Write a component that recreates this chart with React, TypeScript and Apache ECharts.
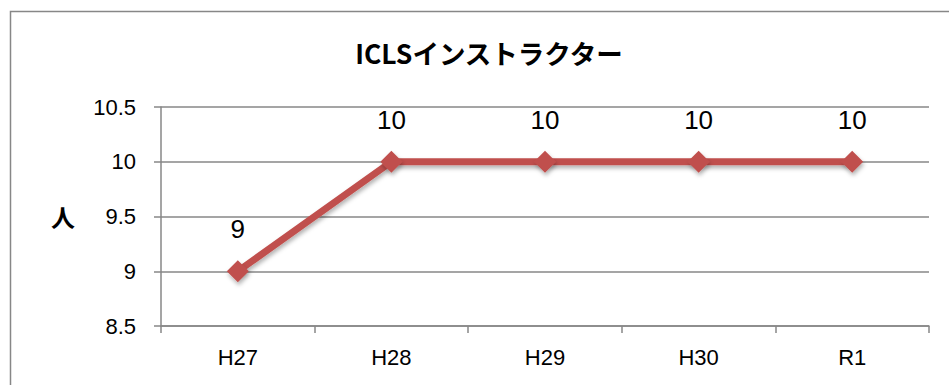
import React, { useEffect, useRef } from "react";
import * as echarts from "echarts";

// Fiscal years (Heisei 27 – Reiwa 1)
const years: string[] = ["H27", "H28", "H29", "H30", "R1"];
// ICLS instructor head count per year
const instructors: number[] = [9, 10, 10, 10, 10];

const yMin = 8.5;
const yMax = 10.5;
const yStep = 0.5;

const LATIN = "'Liberation Sans', Arial, sans-serif";
const JP = "'Noto Sans CJK JP', 'Liberation Sans', sans-serif";
const GRID_GRAY = "#878787";
const RED = "#C0504D";

export default function App() {
  const ref = useRef<HTMLDivElement>(null);

  useEffect(() => {
    if (!ref.current) return;
    const chart = echarts.init(ref.current, undefined, { renderer: "svg" });
    chart.setOption({
      animation: false,
      backgroundColor: "#ffffff",
      title: {
        text: "ICLSインストラクター",
        left: 484,
        textAlign: "center",
        top: 34,
        textStyle: {
          fontFamily: JP,
          fontWeight: "bold",
          fontSize: 26.5,
          color: "#000",
        },
      },
      graphic: [
        {
          type: "rect",
          silent: true,
          shape: { x: 10.5, y: 11.5, width: 1000, height: 500 },
          style: { fill: "none", stroke: GRID_GRAY, lineWidth: 1.5 },
        },
      ],
      grid: { left: 161, right: 20, top: 107, bottom: 59 },
      xAxis: {
        type: "category",
        data: years,
        boundaryGap: true,
        axisLine: { show: true, lineStyle: { color: GRID_GRAY, width: 1.5 } },
        axisTick: {
          show: true,
          alignWithLabel: false,
          length: 7,
          lineStyle: { color: GRID_GRAY, width: 1.5 },
        },
        axisLabel: {
          margin: 20,
          fontFamily: LATIN,
          fontSize: 22,
          color: "#000",
        },
        splitLine: { show: false },
      },
      yAxis: {
        type: "value",
        min: yMin,
        max: yMax,
        interval: yStep,
        name: "人",
        nameLocation: "middle",
        nameRotate: 0,
        nameGap: 98,
        nameTextStyle: {
          fontFamily: JP,
          fontWeight: "bold",
          fontSize: 24,
          color: "#000",
          align: "center",
          verticalAlign: "middle",
          padding: [8, 0, 0, 0],
        },
        axisLine: { show: true, lineStyle: { color: GRID_GRAY, width: 1.5 } },
        axisTick: {
          show: true,
          length: 7,
          lineStyle: { color: GRID_GRAY, width: 1.5 },
        },
        axisLabel: {
          margin: 25,
          fontFamily: LATIN,
          fontSize: 22,
          color: "#000",
          formatter: (v: number) => String(v),
        },
        splitLine: { show: true, lineStyle: { color: GRID_GRAY, width: 1.5 } },
      },
      series: [
        {
          type: "line",
          data: instructors,
          symbol: "diamond",
          symbolSize: 22,
          lineStyle: {
            color: RED,
            width: 7,
            shadowColor: "rgba(0,0,0,0.3)",
            shadowBlur: 4,
            shadowOffsetX: 1,
            shadowOffsetY: 3,
          },
          itemStyle: {
            color: RED,
            shadowColor: "rgba(0,0,0,0.3)",
            shadowBlur: 4,
            shadowOffsetX: 1,
            shadowOffsetY: 3,
          },
          label: {
            show: true,
            position: "top",
            distance: 18,
            fontFamily: LATIN,
            fontSize: 26,
            color: "#000",
          },
        },
      ],
    });
    return () => chart.dispose();
  }, []);

  return (
    <div
      ref={ref}
      style={{ position: "fixed", left: 0, top: 0, width: 949, height: 385 }}
    />
  );
}
